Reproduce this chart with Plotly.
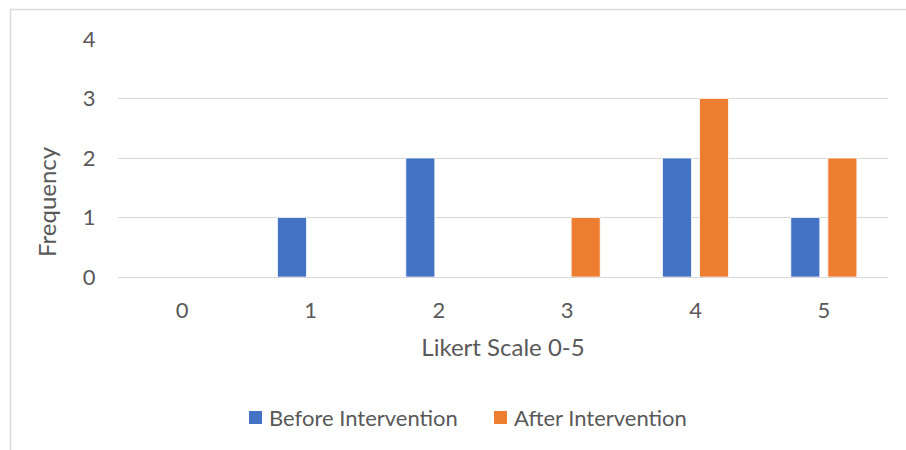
import plotly.graph_objects as go

# Likert responses (0-5) and how many participants chose each
categories = ["0", "1", "2", "3", "4", "5"]
before_counts = [0, 1, 2, 0, 2, 1]
after_counts = [0, 0, 0, 1, 3, 2]
y_ticks = [0, 1, 2, 3, 4]
series_names = ["Before Intervention", "After Intervention"]
series_colors = ["#4472C4", "#ED7D31"]

W, H = 906, 450
L, R, T, B = 118, 18, 39, 173
pw, ph = W - L - R, H - T - B

FONT = "Lato"
FS = 22
TFS = 24
TXT = "#595959"
GRID = "#D9D9D9"

fig = go.Figure()
for name, vals, col in zip(series_names, [before_counts, after_counts], series_colors):
    fig.add_trace(go.Bar(
        x=categories, y=vals, name=name, showlegend=False,
        marker=dict(color=col, line=dict(color="#FFFFFF", width=0.75)),
    ))


def px_x(v):
    return (v - L) / pw


def px_y(v):
    return (H - B - v) / ph


# light chart-area frame
fig.add_shape(type="rect", xref="paper", yref="paper",
              x0=px_x(10.5), x1=px_x(930), y0=px_y(470), y1=px_y(9.5),
              line=dict(color=GRID, width=1.5), fillcolor="rgba(0,0,0,0)",
              layer="below")

# legend: colour key squares followed by series names
legend_x = [249, 494]
for lx, name, col in zip(legend_x, series_names, series_colors):
    fig.add_shape(type="rect", xref="paper", yref="paper",
                  x0=px_x(lx), x1=px_x(lx + 13), y0=px_y(424), y1=px_y(411),
                  line=dict(width=0), fillcolor=col)
    fig.add_annotation(text=name, xref="paper", yref="paper",
                       x=px_x(lx + 18), y=px_y(417.5), xanchor="left",
                       yanchor="middle", showarrow=False,
                       font=dict(family=FONT, size=FS, color=TXT))

# vertical axis title
fig.add_annotation(text="Frequency", xref="paper", yref="paper",
                   x=px_x(46), y=px_y(202), xanchor="center", yanchor="middle",
                   textangle=-90, showarrow=False,
                   font=dict(family=FONT, size=TFS, color=TXT))

fig.update_layout(
    width=W, height=H,
    margin=dict(l=L, r=R, t=T, b=B, autoexpand=False),
    paper_bgcolor="white", plot_bgcolor="white",
    barmode="group", bargap=0.423, bargroupgap=0.216,
    font=dict(family=FONT, size=FS, color=TXT),
    showlegend=False,
    xaxis=dict(
        type="category", categoryorder="array", categoryarray=categories,
        showgrid=False, showline=False, zeroline=False,
        ticks="outside", ticklen=14, tickcolor="rgba(0,0,0,0)",
        tickfont=dict(family=FONT, size=FS, color=TXT),
        title=dict(text="Likert Scale 0-5", standoff=16,
                   font=dict(family=FONT, size=TFS, color=TXT)),
    ),
    yaxis=dict(
        range=[0, 4], tickvals=y_ticks, showgrid=True, gridcolor=GRID,
        gridwidth=1.3, zeroline=True, zerolinecolor=GRID, zerolinewidth=1.3,
        showline=False, ticks="outside", ticklen=17,
        tickcolor="rgba(0,0,0,0)",
        tickfont=dict(family=FONT, size=FS, color=TXT),
    ),
)

fig.write_html("out.html")
